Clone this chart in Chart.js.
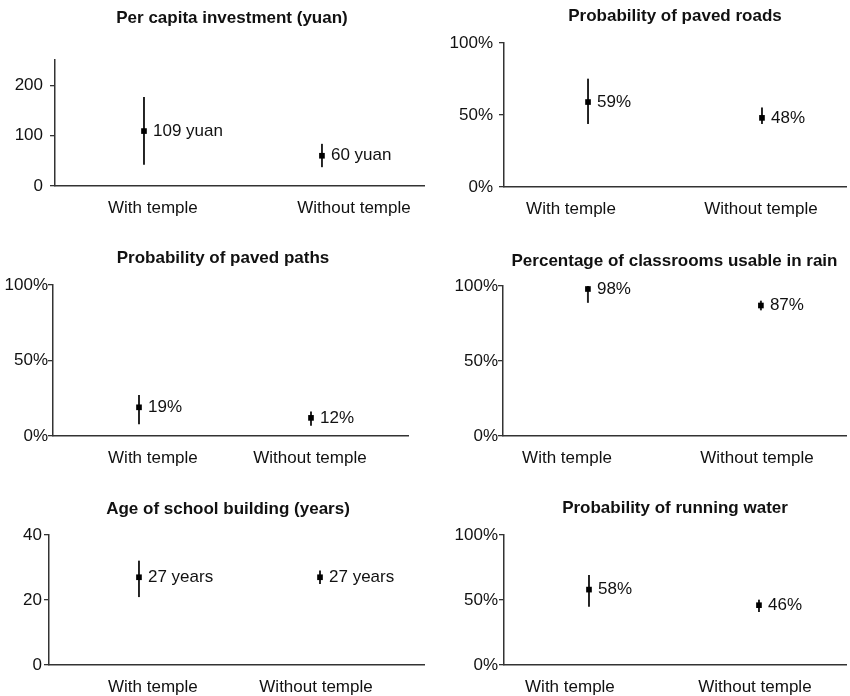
<!DOCTYPE html>
<html>
<head>
<meta charset="utf-8">
<script src="https://cdn.jsdelivr.net/npm/chart.js@4/dist/chart.umd.min.js"></script>
<style>
  body { margin: 0; background: #fff; }
  #wrap { position: relative; width: 850px; height: 696px; overflow: hidden; }
  .panel { position: absolute; }
</style>
</head>
<body>
<div id="wrap"></div>
<script>
const groups = ['With temple', 'Without temple'];
const titles = [
  'Per capita investment (yuan)',
  'Probability of paved roads',
  'Probability of paved paths',
  'Percentage of classrooms usable in rain',
  'Age of school building (years)',
  'Probability of running water'
];
// point estimates and 95% interval ends, [with temple, without temple]
const estimates = [[109, 60], [59, 48], [19, 12], [98, 87], [27, 27], [58, 46]];
const lower = [[43, 38], [44, 44], [8, 7], [89, 84], [21, 25], [45, 41]];
const upper = [[176, 83], [75, 55], [27, 16], [100, 90], [32, 29], [69, 50]];
const units = [' yuan', '%', '%', '%', ' years', '%'];
const yTicks = [[0, 100, 200], [0, 50, 100], [0, 50, 100], [0, 50, 100], [0, 20, 40], [0, 50, 100]];
const yMax = [250, 100, 100, 100, 40, 100];
const tickSuffix = ['', '%', '%', '%', '', '%'];

// where each panel sits and how its plot area is carved out
const panels = [
  { left: 0, top: 0, width: 425, height: 232, yWidth: 55, padRight: 0, titleDx: -8, xHeight: 46, titleTop: 7.8, titleBottom: 31.8, tickPad: 7, xMin: 0.5, xMax: 2.579, labelAt: [1.05, 2.18] },
  { left: 425, top: 0, width: 425, height: 232, yWidth: 79, padRight: 4, titleDx: 0, xHeight: 45, titleTop: 5.8, titleBottom: 16.8, tickPad: 6, xMin: 0.517, xMax: 2.483, labelAt: [0.902, 1.994] },
  { left: 0, top: 232, width: 425, height: 240, yWidth: 53, padRight: 17, titleDx: -7.5, xHeight: 36, titleTop: 15.8, titleBottom: 16.8, tickPad: 0, xMin: 0.5, xMax: 2.564, labelAt: [1.081, 1.994] },
  { left: 425, top: 232, width: 425, height: 240, yWidth: 78, padRight: 4, titleDx: 0, xHeight: 36, titleTop: 18.8, titleBottom: 14.8, tickPad: 0, xMin: 0.509, xMax: 2.492, labelAt: [0.879, 1.977] },
  { left: 0, top: 464, width: 425, height: 232, yWidth: 49, padRight: 0, titleDx: -9, xHeight: 31, titleTop: 34.8, titleBottom: 15.8, tickPad: 2, xMin: 0.503, xMax: 2.58, labelAt: [1.077, 1.978] },
  { left: 425, top: 464, width: 425, height: 232, yWidth: 79, padRight: 4, titleDx: 0, xHeight: 31, titleTop: 33.8, titleBottom: 16.8, tickPad: 1, xMin: 0.5, xMax: 2.512, labelAt: [0.888, 1.976] }
];

const FONT = '"Liberation Sans", Arial, Helvetica, sans-serif';
const INK = '#111';
const AXIS = '#333';

Chart.defaults.font.family = FONT;
Chart.defaults.color = INK;

// writes "109 yuan", "59%" ... to the right of each point
const valueLabels = {
  id: 'valueLabels',
  afterDatasetsDraw(chart, args, opts) {
    const meta = chart.getDatasetMeta(0);
    const ctx = chart.ctx;
    ctx.save();
    ctx.font = '17px ' + FONT;
    ctx.fillStyle = INK;
    ctx.textAlign = 'left';
    ctx.textBaseline = 'middle';
    meta.data.forEach((pt, i) => ctx.fillText(opts.text[i], pt.x + 9, pt.y));
    ctx.restore();
  }
};

// nudges the title box sideways after layout
const titleShift = {
  id: 'titleShift',
  afterLayout(chart, args, opts) {
    const t = chart.titleBlock;
    if (t && opts.dx) {
      t.left += opts.dx;
      t.right += opts.dx;
    }
  }
};

const wrap = document.getElementById('wrap');

panels.forEach((p, k) => {
  const div = document.createElement('div');
  div.className = 'panel';
  div.style.left = p.left + 'px';
  div.style.top = p.top + 'px';
  div.style.width = p.width + 'px';
  div.style.height = p.height + 'px';
  const canvas = document.createElement('canvas');
  div.appendChild(canvas);
  wrap.appendChild(div);

  const points = groups.map((g, i) => ({ x: i + 1, y: estimates[k][i] }));
  const bars = groups.map((g, i) => ({ x: i + 1, y: [lower[k][i], upper[k][i]] }));

  new Chart(canvas, {
    type: 'scatter',
    data: {
      datasets: [
        {
          data: points,
          pointStyle: 'rect',
          pointRadius: 4,
          pointBorderWidth: 0,
          backgroundColor: '#000',
          borderColor: '#000'
        },
        {
          type: 'bar',
          data: bars,
          backgroundColor: '#222',
          barThickness: 1.3,
          borderWidth: 0
        }
      ]
    },
    options: {
      responsive: true,
      maintainAspectRatio: false,
      animation: false,
      layout: { autoPadding: false, padding: { left: 0, right: p.padRight, top: 0, bottom: 0 } },
      plugins: {
        legend: { display: false },
        tooltip: { enabled: false },
        title: {
          display: true,
          text: titles[k],
          fullSize: false,
          color: INK,
          font: { size: 17, weight: 'bold' },
          padding: { top: p.titleTop, bottom: p.titleBottom }
        },
        titleShift: { dx: p.titleDx },
        valueLabels: { text: estimates[k].map(v => v + units[k]) }
      },
      scales: {
        x: {
          type: 'linear',
          min: p.xMin,
          max: p.xMax,
          offset: false,
          grid: { display: false, drawTicks: false, offset: false },
          border: { display: true, color: AXIS, width: 1.5 },
          afterBuildTicks: scale => { scale.ticks = p.labelAt.map(v => ({ value: v })); },
          afterFit: scale => { scale.height = p.xHeight; },
          ticks: {
            autoSkip: false,
            maxRotation: 0,
            padding: 12,
            color: INK,
            font: { size: 17 },
            callback: (v, i) => groups[i]
          }
        },
        y: {
          min: 0,
          max: yMax[k],
          grid: { drawOnChartArea: false, tickLength: 5, tickColor: AXIS, lineWidth: 1.3 },
          border: { display: true, color: AXIS, width: 1.5 },
          afterBuildTicks: scale => { scale.ticks = yTicks[k].map(v => ({ value: v })); },
          afterFit: scale => { scale.width = p.yWidth; },
          ticks: {
            padding: p.tickPad,
            color: INK,
            font: { size: 17 },
            callback: v => v + tickSuffix[k]
          }
        }
      }
    },
    plugins: [valueLabels, titleShift]
  });
});
</script>
</body>
</html>
